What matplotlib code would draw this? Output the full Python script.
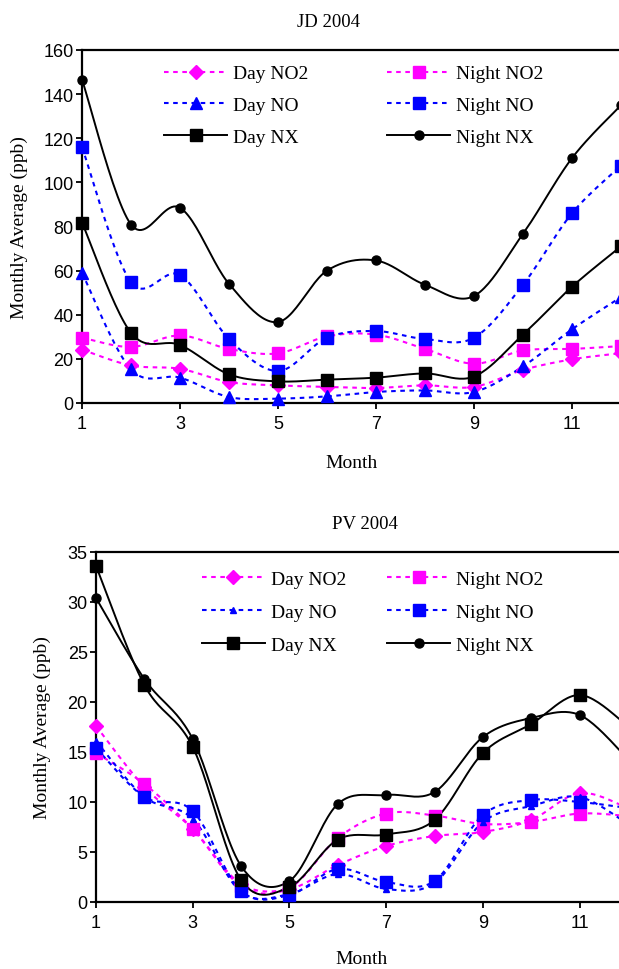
import numpy as np
import matplotlib
matplotlib.use("Agg")
import matplotlib.pyplot as plt
from matplotlib.lines import Line2D

months = [1, 2, 3, 4, 5, 6, 7, 8, 9, 10, 11, 12]
xticks = [1, 3, 5, 7, 9, 11]

# JD 2004
jd_day_no2 = [24.2, 17.0, 15.5, 9.5, 8.0, 7.3, 6.8, 8.0, 7.3, 15.0, 19.8, 22.6]
jd_night_no2 = [29.6, 25.4, 30.6, 24.5, 22.5, 30.2, 31.0, 24.5, 17.8, 23.8, 24.5, 25.8]
jd_day_no = [59.0, 15.2, 11.5, 2.7, 2.0, 3.0, 5.0, 5.7, 5.0, 16.6, 33.4, 48.0]
jd_night_no = [116.0, 54.8, 58.0, 29.0, 14.5, 29.6, 32.6, 29.0, 29.6, 53.6, 86.0, 107.6]
jd_day_nx = [81.8, 31.8, 26.3, 13.0, 9.8, 10.6, 11.5, 13.4, 12.0, 31.0, 52.7, 71.0]
jd_night_nx = [146.6, 80.9, 88.5, 54.0, 36.7, 60.0, 64.6, 53.6, 48.5, 76.7, 111.0, 135.0]

# PV 2004
pv_day_no2 = [17.6, 11.5, 7.3, 1.8, 1.3, 3.7, 5.6, 6.6, 7.0, 8.2, 10.9, 9.4]
pv_night_no2 = [14.9, 11.8, 7.3, 1.6, 1.4, 6.4, 8.85, 8.65, 7.8, 8.0, 8.85, 8.6]
pv_day_no = [16.1, 10.5, 8.3, 1.0, 0.8, 2.8, 1.3, 1.9, 8.0, 9.6, 10.5, 7.8]
pv_night_no = [15.4, 10.5, 9.1, 1.1, 0.7, 3.3, 2.0, 2.1, 8.7, 10.2, 10.0, 9.4]
pv_day_nx = [33.6, 21.7, 15.5, 2.2, 1.5, 6.25, 6.75, 8.2, 14.9, 17.8, 20.7, 17.6]
pv_night_nx = [30.4, 22.3, 16.3, 3.6, 2.1, 9.8, 10.7, 11.0, 16.5, 18.4, 18.7, 14.3]

labels = ["Day NO2", "Night NO2", "Day NO", "Night NO", "Day NX", "Night NX"]

SERIF = "Liberation Serif"
SANS = "Liberation Sans"


def smooth(x, y, n=24):
    """Excel-style smoothed line: cubic Bezier segments, control points at 1/6 tangents."""
    p = np.column_stack([np.asarray(x, float), np.asarray(y, float)])
    pts = []
    for i in range(len(p) - 1):
        p0 = p[i - 1] if i > 0 else p[i]
        p1 = p[i]
        p2 = p[i + 1]
        p3 = p[i + 2] if i + 2 < len(p) else p[i + 1]
        c1 = p1 + (p2 - p0) / 6.0
        c2 = p2 - (p3 - p1) / 6.0
        t = np.linspace(0, 1, n, endpoint=(i == len(p) - 2))[:, None]
        seg = ((1 - t) ** 3) * p1 + 3 * ((1 - t) ** 2) * t * c1 + 3 * (1 - t) * t ** 2 * c2 + t ** 3 * p2
        pts.append(seg)
    pts = np.vstack(pts)
    return pts[:, 0], pts[:, 1]


DASH = (0, (2.2, 2.2))


def draw(ax, series, styles, ylim, yticks, title, title_x, leg_anchor, colsp, labsp,
         xlpad, ylpad):
    handles = []
    for (vals, st) in zip(series, styles):
        sx, sy = smooth(months, vals)
        ax.plot(sx, sy, color=st["lc"], lw=st["lw"], linestyle=st["ls"], zorder=2, clip_on=True)
        ax.plot(months, vals, linestyle="none", marker=st["m"], ms=st["ms"],
                color=st["mc"], mec=st["mc"], zorder=3, clip_on=False)
        handles.append(Line2D([], [], color=st["lc"], lw=st["lw"], linestyle=st["ls"],
                              marker=st["m"], ms=st["ms"], mfc=st["mc"], mec=st["mc"]))
    ax.set_xlim(1, 12)
    ax.set_ylim(*ylim)
    ax.set_xticks(xticks)
    ax.set_yticks(yticks)
    for s in ["left", "bottom", "top", "right"]:
        ax.spines[s].set_linewidth(1.6)
        ax.spines[s].set_color("black")
    ax.tick_params(direction="out", length=4.5, width=1.3, labelsize=13)
    ax.tick_params(axis="y", pad=1.5)
    ax.tick_params(axis="x", pad=4)
    for lab in ax.get_xticklabels() + ax.get_yticklabels():
        lab.set_fontfamily(SANS)
    ax.set_xlabel("Month", fontfamily=SERIF, fontsize=14, labelpad=xlpad)
    ax.set_ylabel("Monthly Average (ppb)", fontfamily=SERIF, fontsize=14, labelpad=ylpad)
    ax.set_title(title, fontfamily=SERIF, fontsize=13.5, pad=17, x=title_x)
    order = [0, 2, 4, 1, 3, 5]
    leg = ax.legend([handles[i] for i in order], [labels[i] for i in order], ncol=2,
                    loc="upper left", bbox_to_anchor=leg_anchor, frameon=False,
                    prop={"family": SERIF, "size": 14}, handlelength=3.25, handletextpad=0.3,
                    columnspacing=colsp, labelspacing=labsp, borderaxespad=0, borderpad=0)
    return leg


top_styles = [
    dict(lc="#ff00ff", mc="#ff00ff", ls=DASH, lw=1.5, m="D", ms=7),
    dict(lc="#ff00ff", mc="#ff00ff", ls=DASH, lw=1.5, m="s", ms=8),
    dict(lc="#0000ff", mc="#0000ff", ls=DASH, lw=1.5, m="^", ms=8.5),
    dict(lc="#0000ff", mc="#0000ff", ls=DASH, lw=1.5, m="s", ms=9),
    dict(lc="black", mc="black", ls="-", lw=1.4, m="s", ms=9),
    dict(lc="black", mc="black", ls="-", lw=1.4, m="o", ms=6.5),
]
bot_styles = [
    dict(lc="#ff00ff", mc="#ff00ff", ls=DASH, lw=1.5, m="D", ms=7),
    dict(lc="#ff00ff", mc="#ff00ff", ls=DASH, lw=1.5, m="s", ms=8),
    dict(lc="#0000ff", mc="#0000ff", ls=DASH, lw=1.5, m="^", ms=5),
    dict(lc="#0000ff", mc="#0000ff", ls=DASH, lw=1.5, m="s", ms=9),
    dict(lc="black", mc="black", ls="-", lw=1.4, m="s", ms=9),
    dict(lc="black", mc="black", ls="-", lw=1.4, m="o", ms=6.5),
]

fig = plt.figure(figsize=(6.19, 9.70), dpi=100)
W, H = 619.0, 970.0

# top axes: x=1 at px 82, x=12 at px 621; y=0 at px 404, 160 at px 51
ax1 = fig.add_axes([82 / W, 1 - 404 / H, (621 - 82) / W, (404 - 51) / H])
draw(ax1, [jd_day_no2, jd_night_no2, jd_day_no, jd_night_no, jd_day_nx, jd_night_nx],
     top_styles, (0, 160), np.arange(0, 161, 20), "JD 2004", 0.458, (0.152, 0.958), 4.05, 0.72,
     16, 11)

# bottom axes: x=1 at px 96, x=12 at px 628; y=0 at px 903, 35 at px 553
ax2 = fig.add_axes([96 / W, 1 - 903 / H, (628 - 96) / W, (903 - 553) / H])
draw(ax2, [pv_day_no2, pv_night_no2, pv_day_no, pv_night_no, pv_day_nx, pv_night_nx],
     bot_styles, (0, 35), np.arange(0, 36, 5), "PV 2004", 0.506, (0.199, 0.948), 2.1, 0.8,
     14, 12)

fig.savefig("out.png", dpi=100)
